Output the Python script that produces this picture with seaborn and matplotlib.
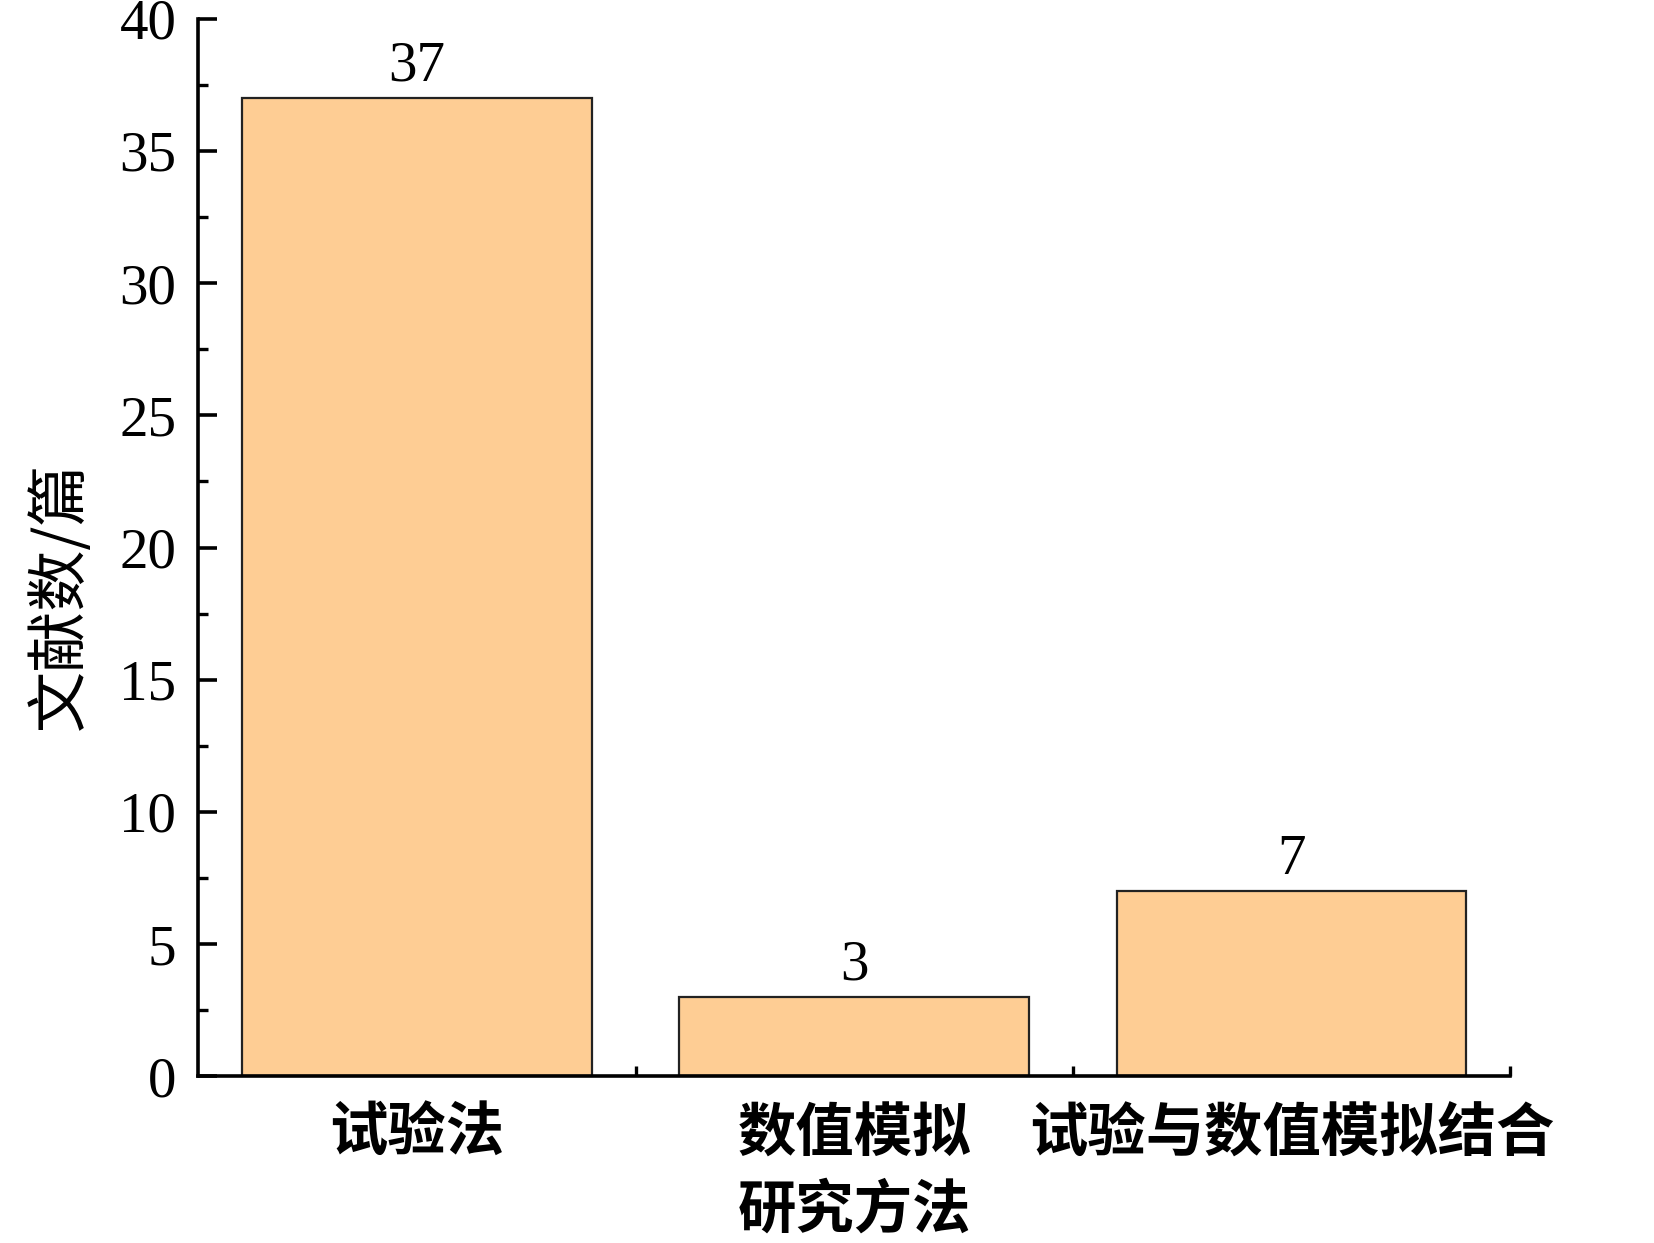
import numpy as np
import pandas as pd
import seaborn as sns
import matplotlib.pyplot as plt
from matplotlib.ticker import MultipleLocator

# Data
methods = ["试验法", "数值模拟", "试验与数值模拟结合"]
counts = [37, 3, 7]
y_ticks = [0, 5, 10, 15, 20, 25, 30, 35, 40]

BAR_COLOR = "#FECD94"
CJK = ["Noto Sans CJK SC", "DejaVu Sans"]

sns.set_style("ticks")
plt.rcParams["font.family"] = ["Liberation Serif", "Noto Sans CJK SC", "DejaVu Sans"]
plt.rcParams["axes.unicode_minus"] = False
plt.rcParams["text.color"] = "black"
plt.rcParams["axes.labelcolor"] = "black"
plt.rcParams["xtick.color"] = "black"
plt.rcParams["ytick.color"] = "black"

frame = pd.DataFrame({"method": methods, "count": counts})

fig = plt.figure(figsize = (16.54, 12.43), dpi = 100)
ax = fig.add_axes([0.120, 0.134, 0.793, 0.851])

sns.barplot(
    data = frame, x = "method", y = "count", color = BAR_COLOR,
    width = 0.8, edgecolor = "#222222", linewidth = 1.6, saturation = 1, ax = ax
)

for container in ax.containers:
    ax.bar_label(container, fmt = "%d", padding = 4, fontsize = 41,
                 family = ["Liberation Serif"], color = "black")

ax.set_xlim(-0.5, 2.5)
ax.set_ylim(0, 40)
ax.set_yticks(y_ticks)
ax.yaxis.set_minor_locator(MultipleLocator(2.5))
ax.set_xticks([0.5, 1.5, 2.5], minor = True)

sns.despine(ax = ax)
for side in ["left", "bottom"]:
    ax.spines[side].set_linewidth(2.6)
    ax.spines[side].set_color("black")

ax.tick_params(axis = "y", which = "major", direction = "in", length = 14, width = 2.6,
               labelsize = 41, pad = 16)
ax.tick_params(axis = "y", which = "minor", direction = "in", length = 7, width = 2.4)
ax.tick_params(axis = "x", which = "major", length = 0, pad = 20, labelsize = 42)
ax.tick_params(axis = "x", which = "minor", direction = "in", length = 7, width = 2.4)

for label in ax.get_xticklabels():
    label.set_fontweight("bold")
    label.set_family(CJK)

ax.set_xlabel("研究方法", fontsize = 42, fontweight = "bold", labelpad = 12, family = CJK)
ax.set_ylabel("文献数/篇", fontsize = 44, family = CJK)
ax.yaxis.set_label_coords(-0.081, 0.454)

plt.savefig("out.png", dpi = 100)
plt.close()
